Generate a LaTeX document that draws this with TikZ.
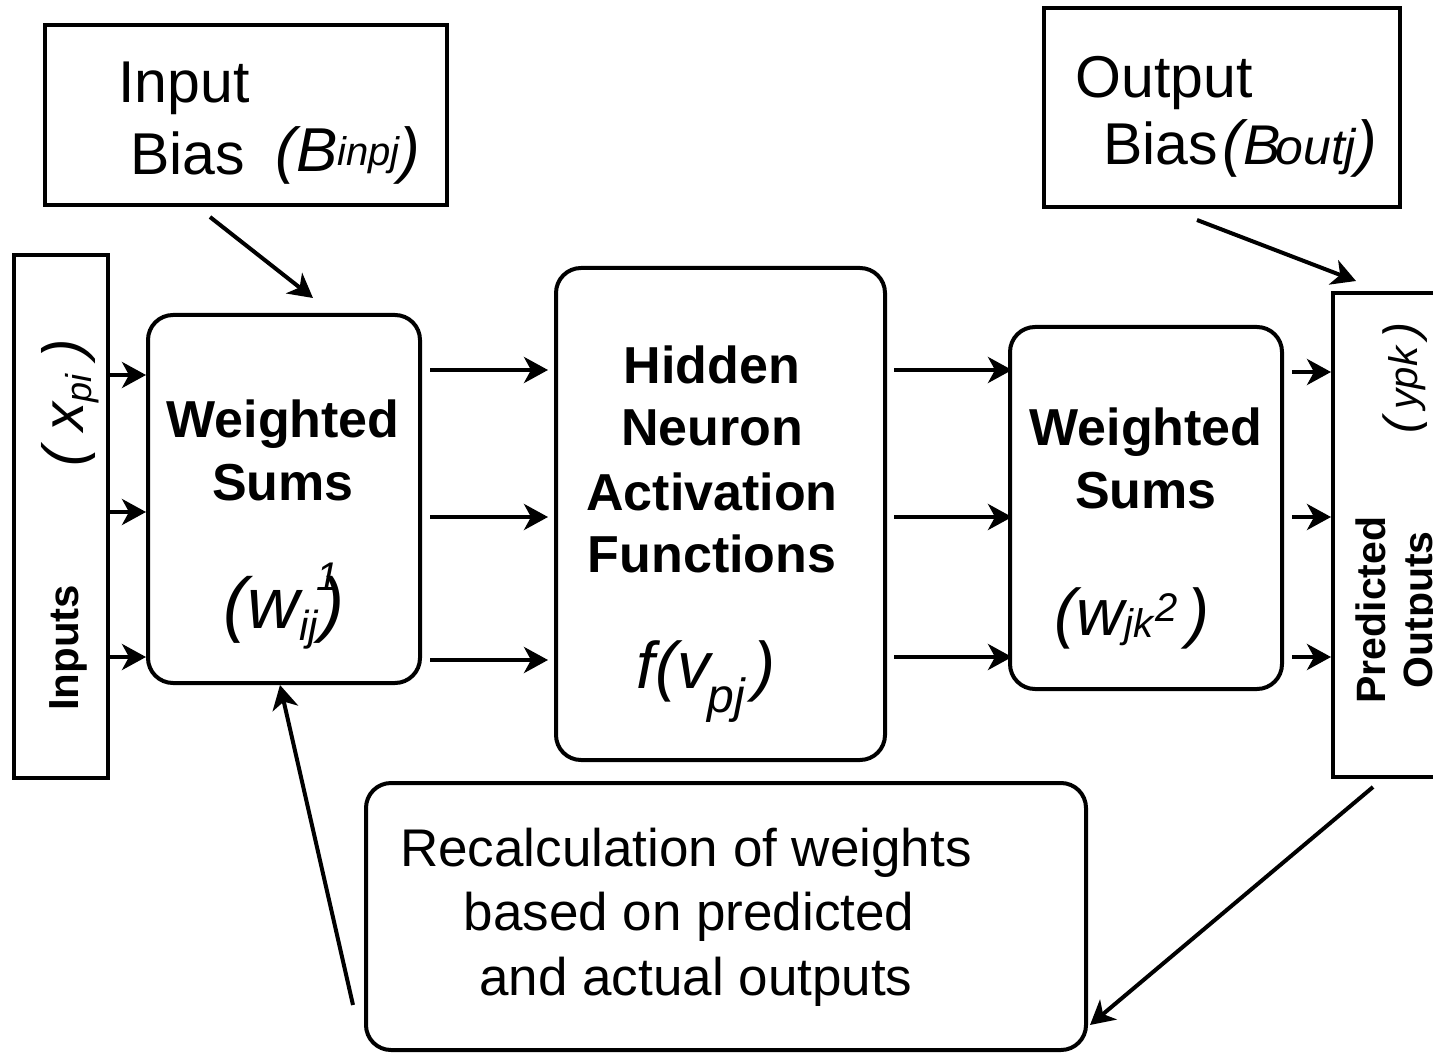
\documentclass[tikz,border=0pt]{standalone}
\usepackage{fontspec}
\setmainfont{Liberation Sans}
\usetikzlibrary{arrows.meta,calc}

% font size shortcut: size and baseline skip in pt
\newcommand\fs[1]{\fontsize{#1}{#1}\selectfont}

\begin{document}
\begin{tikzpicture}[x=0.5pt,y=-0.5pt,
  box/.style={draw,line width=2pt,inner sep=0pt,fill=white},
  rbox/.style={box,rounded corners=12.5pt},
  arr/.style={line width=2pt,-{Stealth[length=12pt,width=13pt,inset=3.5pt]}},
  lbl/.style={inner sep=0pt,anchor=base},
  lblw/.style={inner sep=0pt,anchor=base west},
  head/.style={lbl,font=\bfseries\fs{26}},
  body/.style={lbl,font=\fs{26.5}}]

\useasboundingbox (0,0) rectangle (1433,1053);
\clip (0,0) rectangle (1433,1053);

% ---- boxes ----
\node[box,minimum width=201pt,minimum height=90pt]    (ib)   at (246,115)    {};
\node[box,minimum width=178pt,minimum height=99.5pt]  (ob)   at (1222,107.5) {};
\node[box,minimum width=47pt,minimum height=261.5pt]  (inp)  at (61,516.5)   {};
\node[rbox,minimum width=136pt,minimum height=184pt]  (ws1)  at (284,499)    {};
\node[rbox,minimum width=164.5pt,minimum height=246pt](hid)  at (720.5,514)  {};
\node[rbox,minimum width=136pt,minimum height=181pt]  (ws2)  at (1146,508)   {};
\node[box,minimum width=83.5pt,minimum height=242pt]  (pred) at (1416.5,535) {};
\node[rbox,minimum width=360pt,minimum height=133.5pt](rec)  at (726,916.5)  {};

% ---- bias boxes ----
\node[lblw] (ibA) at (118,103) {\fs{29.5}Input};
\node[lblw] (ibB) at (130,175) {\fs{29.5}Bias};
\node[lblw] (ibC) at (275,172) {\itshape\fs{31}(B\raisebox{3pt}{\fs{20}inpj})};

\node[lblw] (obA) at (1075,98)  {\fs{29.5}Output};
\node[lblw] (obB) at (1103,165) {\fs{29.5}Bias};
\node[lblw] (obC) at (1222,165) {\itshape\fs{31}(\fs{28}B\kern-2.5pt\fs{25}outj\fs{31})};

% ---- inputs / outputs columns ----
\node[inner sep=0pt,rotate=90] (inpA) at (70,403)
  {\itshape\fs{29}( x\raisebox{-4pt}{\fs{18}pi} )};
\node[inner sep=0pt,rotate=90] (inpB) at (68,648) {\bfseries\fs{21}Inputs};

\node[inner sep=0pt,rotate=90] (predA) at (1405,378)
  {\itshape\fs{24}(\,\fs{20}ypk\fs{24}\,)};
\node[inner sep=0pt,rotate=90] (predB) at (1371,610) {\bfseries\fs{20.5}Predicted};
\node[inner sep=0pt,rotate=90] (predC) at (1422,610) {\bfseries\fs{20.5}Outputs};

% ---- first weighted sums ----
\node[head] (ws1A) at (283,437) {Weighted};
\node[head] (ws1B) at (283,500) {Sums};
\node[lbl]  (ws1C) at (284,628)
  {\itshape\fs{36}(w\raisebox{-6pt}{\fs{21}ij}\rlap{\kern-1pt\raisebox{19pt}{\fs{20}1}}\kern1pt)};

% ---- hidden layer ----
\node[head] (hidA) at (712,383) {Hidden};
\node[head] (hidB) at (712,445) {Neuron};
\node[head] (hidC) at (712,510) {Activation};
\node[head] (hidD) at (712,572) {Functions};
\node[lbl]  (hidE) at (706,688)
  {\itshape\fs{33}f(v\kern-1pt\raisebox{-12pt}{\fs{24}pj}\kern4pt)};

% ---- second weighted sums ----
\node[lbl]  (ws2A) at (1146,445) [font=\bfseries\fs{26}] {Weighted};
\node[lbl]  (ws2B) at (1146,508) [font=\bfseries\fs{26}] {Sums};
\node[lbl]  (ws2C) at (1132,635)
  {\itshape\fs{33}(w\raisebox{-1pt}{\fs{20}jk}\kern1pt\raisebox{7pt}{\fs{20}2}\kern5pt)};

% ---- recalculation box ----
\node[body] (recA) at (686,866) {Recalculation of weights};
\node[body] (recB) at (689,930) {based on predicted};
\node[body] (recC) at (696,995) {and actual outputs};

% ---- forward connectors ----
\foreach \y in {375,512,657}
  \draw[arr] (inp.east |- 0,\y) -- (ws1.west |- 0,\y);
\foreach \y in {370,517,660}
  \draw[arr] ([xshift=4pt]ws1.east |- 0,\y) -- ([xshift=-3pt]hid.west |- 0,\y);
\foreach \y in {370,517,657}
  \draw[arr] ([xshift=3.5pt]hid.east |- 0,\y) -- ([xshift=2pt]ws2.west |- 0,\y);
\foreach \y in {372,517,657}
  \draw[arr] ([xshift=4pt]ws2.east |- 0,\y) -- (pred.west |- 0,\y);

% ---- bias connectors ----
\draw[arr] ([shift={(-36,10)}]ib.south) -- ([shift={(29,-15)}]ws1.north);
\draw[arr] ([shift={(-25,11)}]ob.south) -- ([shift={(25,-10)}]pred.north west);

% ---- feedback connectors ----
\draw[arr] ([shift={(42,8)}]pred.south west) -- ([shift={(2,-27)}]rec.south east);
\draw[arr] ([shift={(-11,-47)}]rec.south west) -- ([shift={(-4,0)}]ws1.south);

\end{tikzpicture}
\end{document}
